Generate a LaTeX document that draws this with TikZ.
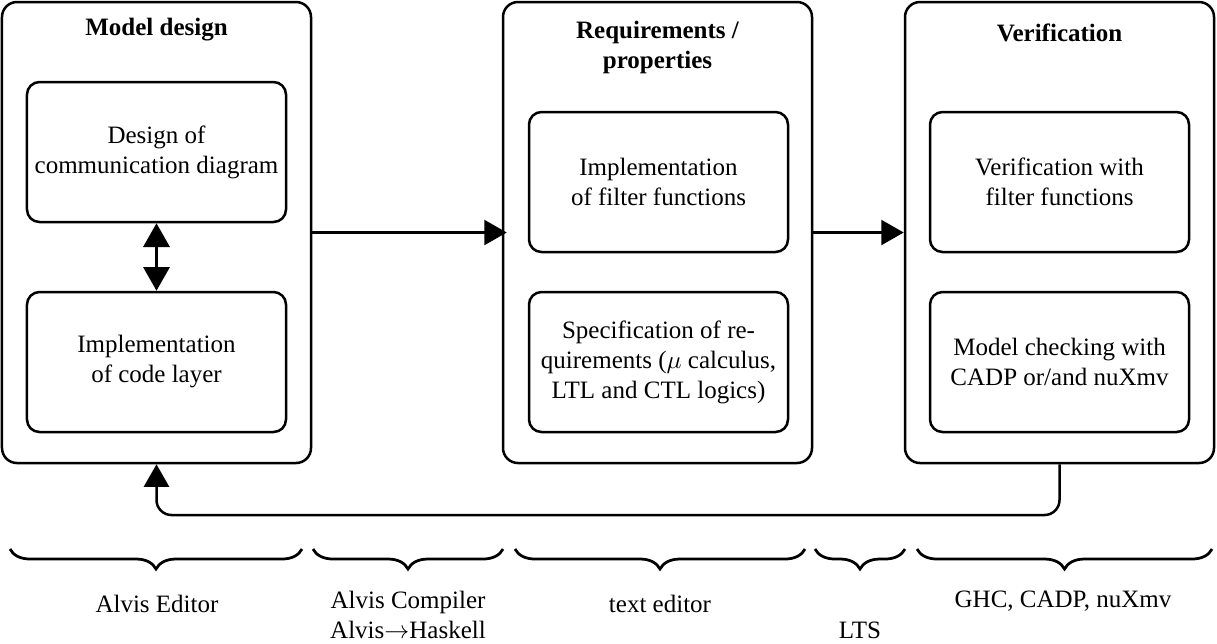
\documentclass[tikz,border=0pt]{standalone}
\usepackage{fontspec}
\setmainfont{Liberation Serif}
\usetikzlibrary{arrows.meta,decorations.pathreplacing,calc}
\begin{document}
\begin{tikzpicture}[x=0.4pt,y=-0.4pt,
  font=\fontsize{10pt}{12pt}\selectfont,
  outer/.style={draw,line width=1pt,rounded corners=6pt,minimum width=123.6pt,minimum height=184.4pt,inner sep=0pt},
  inner/.style={draw,line width=1pt,rounded corners=5pt,minimum width=103.6pt,minimum height=56pt,align=center,inner sep=0pt},
  title/.style={font=\fontsize{10pt}{12pt}\selectfont\bfseries,align=center},
  conn/.style={line width=1pt,-{Triangle[length=9pt,width=10pt]}},
  dconn/.style={line width=1pt,{Triangle[length=9.5pt,width=10.5pt]}-{Triangle[length=9.5pt,width=10.5pt]}},
  brc/.style={line width=1.1pt,decorate,decoration={brace,mirror,amplitude=8pt}},
  lbl/.style={align=center,inner sep=0pt}]
\useasboundingbox (0,0) rectangle (1217,643);
% outer boxes
\node[outer] (o1) at (156.5,232.5) {};
\node[outer] (o2) at (657.5,232.5) {};
\node[outer] (o3) at (1059.5,232.5) {};
% titles
\node[title] (t1) at (156.5,30) {Model design};
\node[title] (t2) at (657.5,47) {Requirements /\\properties};
\node[title] (t3) at (1059.5,33) {Verification};
% inner boxes
\node[inner] (a1) at (156.5,152) {Design of\\communication diagram};
\node[inner] (a2) at (156.5,362) {Implementation\\of code layer};
\node[inner] (b1) at (658.5,182) {Implementation\\of filter functions};
\node[inner] (b2) at (658.5,362) {Specification of re-\\quirements ($\mu$ calculus,\\LTL and CTL logics)};
\node[inner] (c1) at (1059.5,182) {Verification with\\filter functions};
\node[inner] (c2) at (1059.5,362) {Model checking with\\CADP or/and nuXmv};
% connectors
\draw[dconn] (a1.south) -- (a2.north);
\draw[conn,shorten >=-2pt] (o1.east) -- (o2.west);
\draw[conn] (o2.east) -- (o3.west);
\coordinate (fb) at (600,515);
\draw[conn,rounded corners=6pt] (o3.south) |- (fb) -| (o1.south);
% braces
\coordinate (br1a) at (10,549);  \coordinate (br1b) at (302,549);
\coordinate (br2a) at (313,549); \coordinate (br2b) at (503,549);
\coordinate (br3a) at (515,549); \coordinate (br3b) at (805,549);
\coordinate (br4a) at (815,549); \coordinate (br4b) at (905,549);
\coordinate (br5a) at (917,549); \coordinate (br5b) at (1212,549);
\draw[brc] (br1a) -- (br1b);
\draw[brc] (br2a) -- (br2b);
\draw[brc] (br3a) -- (br3b);
\draw[brc] (br4a) -- (br4b);
\draw[brc] (br5a) -- (br5b);
% labels
\node[lbl] (l1) at (157,604) {Alvis Editor};
\node[lbl] (l2) at (408,615) {Alvis Compiler\\Alvis$\rightarrow$Haskell};
\node[lbl] (l3) at (660,604) {text editor};
\node[lbl] (l4) at (860,630) {LTS};
\node[lbl] (l5) at (1063,601) {GHC, CADP, nuXmv};
\end{tikzpicture}
\end{document}
